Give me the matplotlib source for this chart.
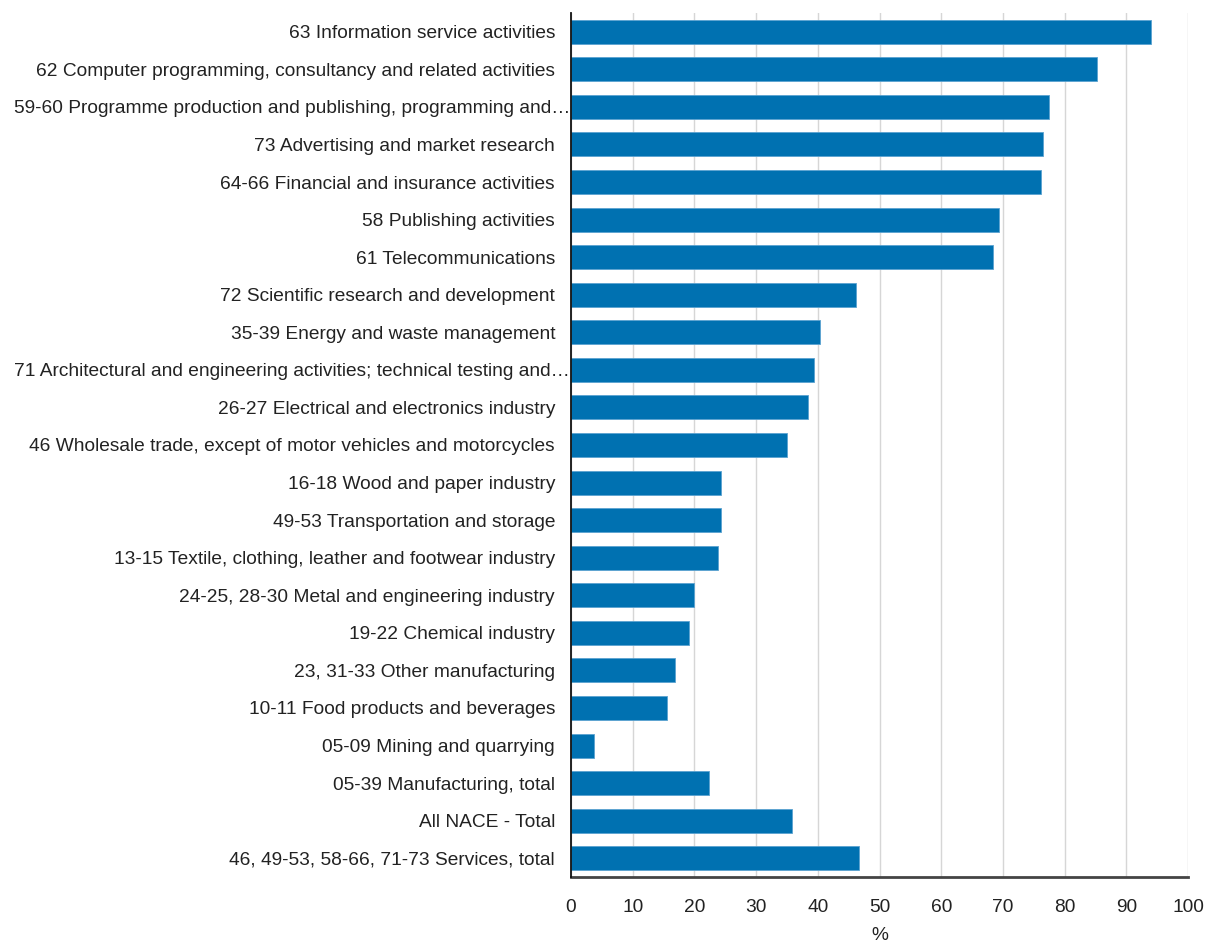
import matplotlib
matplotlib.use("Agg")
import matplotlib.pyplot as plt
from matplotlib.transforms import ScaledTranslation

categories = [
    "63 Information service activities",
    "62 Computer programming, consultancy and related activities",
    "59-60 Programme production and publishing, programming and…",
    "73 Advertising and market research",
    "64-66 Financial and insurance activities",
    "58 Publishing activities",
    "61 Telecommunications",
    "72 Scientific research and development",
    "35-39 Energy and waste management",
    "71 Architectural and engineering activities; technical testing and…",
    "26-27 Electrical and electronics industry",
    "46 Wholesale trade, except of motor vehicles and motorcycles",
    "16-18 Wood and paper industry",
    "49-53 Transportation and storage",
    "13-15 Textile, clothing, leather and footwear industry",
    "24-25, 28-30 Metal and engineering industry",
    "19-22 Chemical industry",
    "23, 31-33 Other manufacturing",
    "10-11 Food products and beverages",
    "05-09 Mining and quarrying",
    "05-39 Manufacturing, total",
    "All NACE - Total",
    "46, 49-53, 58-66, 71-73 Services, total",
]
values = [94.0, 85.3, 77.5, 76.5, 76.2, 69.4, 68.4, 46.2, 40.4, 39.4, 38.4,
          35.0, 24.3, 24.3, 23.8, 20.0, 19.2, 16.9, 15.5, 3.8, 22.3, 35.8, 46.7]
xticks = [0, 10, 20, 30, 40, 50, 60, 70, 80, 90, 100]
xlabel = "%"

plt.rcParams['font.family'] = ['Liberation Sans', 'DejaVu Sans']

fig = plt.figure(figsize=(12.06, 9.43), dpi=100)
ax = fig.add_axes([571/1206, 1 - 877/943, (1188 - 571)/1206, (877 - 13)/943])

ypos = list(range(len(categories)))
ax.barh(ypos, values, height=0.64, color="#0071b1", edgecolor="#5aa2d0",
        linewidth=0.6, zorder=3)

ax.set_ylim(len(categories) - 0.5, -0.5)
ax.set_xlim(0, 100)
ax.set_xticks(xticks)
ax.set_xticklabels([str(t) for t in xticks])
ax.set_yticks(ypos)
ax.set_yticklabels(categories)

ax.grid(axis="x", color="#d6d6d6", linewidth=1.0, zorder=0)
ax.grid(axis="y", visible=False)

for s in ["top", "right"]:
    ax.spines[s].set_visible(False)
ax.spines["left"].set_color("#111111")
ax.spines["left"].set_linewidth(1.3)
ax.spines["left"].set_zorder(4)
ax.spines["bottom"].set_color("#444444")
ax.spines["bottom"].set_linewidth(2.0)

ax.tick_params(axis="y", length=0, pad=11.5, labelsize=13.8, labelcolor="#222222")
ax.tick_params(axis="x", length=0, pad=15.5, labelsize=13.8, labelcolor="#222222")

ax.set_xlabel(xlabel, fontsize=13.8, color="#222222", labelpad=8)

# truncated labels sit closer to the axis
for lbl in ax.get_yticklabels():
    if lbl.get_text().endswith("…"):
        lbl.set_transform(lbl.get_transform() + ScaledTranslation(15/100, 0, fig.dpi_scale_trans))

fig.savefig("out.png", dpi=100)
